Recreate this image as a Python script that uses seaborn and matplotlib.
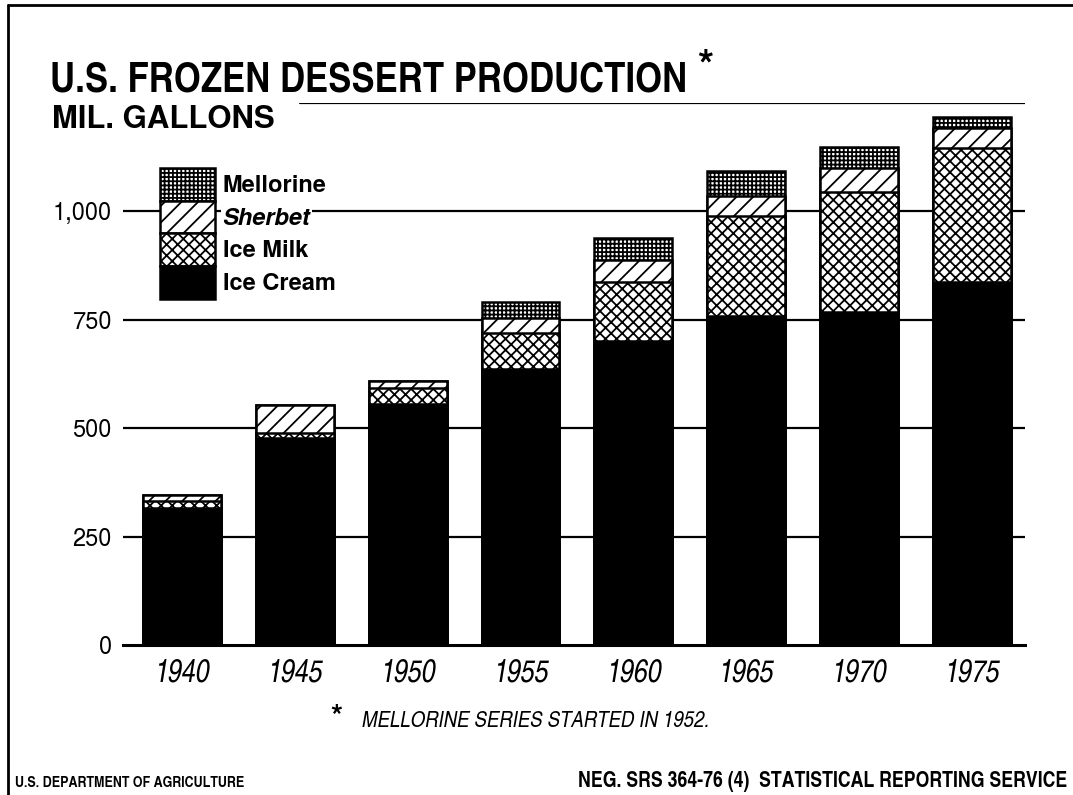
import matplotlib
matplotlib.use("Agg")
import matplotlib.pyplot as plt
from matplotlib.patches import Patch
from matplotlib.lines import Line2D
import seaborn as sns
import pandas as pd

# ---- data (million gallons) ----
years = ["1940", "1945", "1950", "1955", "1960", "1965", "1970", "1975"]
ice_cream = [316, 477, 556, 636, 700, 758, 767, 838]
ice_milk = [15, 12, 36, 83, 138, 231, 277, 308]
sherbet = [16, 65, 18, 35, 50, 46, 56, 46]
mellorine = [0, 0, 0, 36, 50, 58, 48, 26]
y_ticks = [0, 250, 500, 750, 1000]
y_tick_labels = ["0", "250", "500", "750", "1,000"]

sns.set_theme(style="white")
HEROS = ["TeX Gyre Heros", "Liberation Sans", "DejaVu Sans"]
COND = ["TeX Gyre Heros Cn", "Liberation Sans Narrow", "Liberation Sans", "DejaVu Sans"]
plt.rcParams["font.family"] = HEROS
plt.rcParams["hatch.linewidth"] = 1.3
plt.rcParams["hatch.color"] = "black"
for k in ["text.color", "axes.labelcolor", "xtick.color", "ytick.color"]:
    plt.rcParams[k] = "black"

W, H = 1073, 795
fig = plt.figure(figsize=(W / 100, H / 100), dpi=100)
fig.patch.set_facecolor("white")
ax = fig.add_axes([123 / W, 1 - 645 / H, (1025 - 123) / W, (645 - 103) / H])
ax.set_facecolor("white")

df = pd.DataFrame({"year": years, "ic": ice_cream, "im": ice_milk,
                   "sh": sherbet, "me": mellorine})
df["c_im"] = df["ic"] + df["im"]
df["c_sh"] = df["c_im"] + df["sh"]
df["c_me"] = df["c_sh"] + df["me"]

H_ME, H_SH, H_IM = "++++", "//", "xxx"
layers = [("c_me", "white", H_ME), ("c_sh", "white", H_SH),
          ("c_im", "white", H_IM), ("ic", "black", None)]
for col, fc, hatch in layers:
    kw = dict(hatch=hatch) if hatch else {}
    sns.barplot(data=df, x="year", y=col, order=years, color=fc,
                saturation=1, edgecolor="black", linewidth=1.8, width=0.69,
                errorbar=None, ax=ax, zorder=3, **kw)

# horizontal rules
for v in y_ticks[1:]:
    ax.axhline(v, color="black", lw=1.6, zorder=1)
ax.axhline(1250, xmin=(300 - 123) / (1025 - 123), xmax=1, color="black", lw=1.6, zorder=1)

ax.set_xlim(-0.523, 7.47)
ax.set_ylim(0, 1250)
ax.set_yticks(y_ticks)
ax.set_yticklabels(y_tick_labels, fontsize=17, family=HEROS)
ax.tick_params(axis="y", length=0, pad=8)
ax.tick_params(axis="x", length=0, pad=10)
ax.set_xticks(range(len(years)))
ax.set_xticklabels(years, fontsize=22, style="italic", family=COND)
ax.set_xlabel("")
ax.set_ylabel("")
for s in ["left", "right", "top"]:
    ax.spines[s].set_visible(False)
ax.spines["bottom"].set_color("black")
ax.spines["bottom"].set_linewidth(2.2)
ax.spines["bottom"].set_zorder(4)

# legend
handles = [
    Patch(facecolor="white", edgecolor="black", hatch=H_ME, lw=1.8, label="Mellorine"),
    Patch(facecolor="white", edgecolor="black", hatch=H_SH, lw=1.8, label="Sherbet"),
    Patch(facecolor="white", edgecolor="black", hatch=H_IM, lw=1.8, label="Ice Milk"),
    Patch(facecolor="black", edgecolor="black", lw=1.8, label="Ice Cream"),
]
leg = ax.legend(handles=handles, loc="upper left",
                bbox_to_anchor=(160 / W, 1 - 168 / H), bbox_transform=fig.transFigure,
                frameon=False, borderpad=0, borderaxespad=0, labelspacing=0,
                handlelength=2.35, handleheight=1.75, handletextpad=0.3,
                prop=dict(size=17, weight="bold", family=HEROS))
leg.set_zorder(6)
for t in leg.get_texts():
    t.set_bbox(dict(facecolor="white", edgecolor="none", pad=1))
    if t.get_text() == "Sherbet":
        t.set_style("italic")

# texts
title = fig.text(50 / W, 1 - 91 / H, "U.S. FROZEN DESSERT PRODUCTION", fontsize=32,
                 weight="bold", family=COND, va="baseline", ha="left")
fig.text(697 / W, 1 - 80 / H, "*", fontsize=30, weight="bold", family=HEROS,
         va="baseline", ha="left")
sub = fig.text(52 / W, 1 - 128 / H, "MIL. GALLONS", fontsize=20, weight="bold",
               family=HEROS, va="baseline", ha="left")
fig.text(330 / W, 1 - 726 / H, "*", fontsize=22, weight="bold", family=HEROS,
         va="baseline", ha="left")
note = fig.text(362 / W, 1 - 727 / H, "MELLORINE SERIES STARTED IN 1952.", fontsize=12,
                style="italic", family=COND, va="baseline", ha="left")
f1 = fig.text(15 / W, 1 - 787 / H, "U.S. DEPARTMENT OF AGRICULTURE", fontsize=11,
              weight="bold", family=COND, va="baseline", ha="left")
f2 = fig.text(578 / W, 1 - 787 / H, "NEG. SRS 364-76 (4)  STATISTICAL REPORTING SERVICE",
              fontsize=11, weight="bold", family=COND, va="baseline", ha="left")

fig.canvas.draw()
renderer = fig.canvas.get_renderer()
for t, target in [(title, 638), (sub, 223), (note, 348), (f1, 230), (f2, 489)]:
    w = t.get_window_extent(renderer).width
    t.set_fontsize(t.get_fontsize() * target / w)

# frame border
fig.add_artist(Line2D([8 / W, 8 / W], [0, 1 - 5 / H], color="black", lw=2,
                      transform=fig.transFigure))
fig.add_artist(Line2D([8 / W, 1], [1 - 5 / H, 1 - 5 / H], color="black", lw=2,
                      transform=fig.transFigure))

fig.savefig("out.png", dpi=100, facecolor="white")
